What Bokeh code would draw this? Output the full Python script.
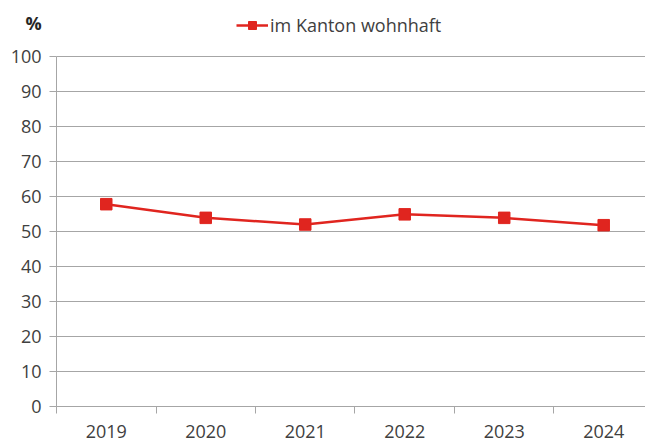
from bokeh.plotting import figure
from bokeh.models import ColumnDataSource, FixedTicker, Range1d, Legend, LegendItem, Label
from bokeh.embed import file_html
from bokeh.resources import INLINE

years = ["2019", "2020", "2021", "2022", "2023", "2024"]
values = [57.8, 53.9, 52.0, 54.9, 53.9, 51.8]
y_ticks = [0, 10, 20, 30, 40, 50, 60, 70, 80, 90, 100]
series_name = "im Kanton wohnhaft"
unit_label = "%"

RED = "#e0251f"
GRID = "#a6a6a6"
TXT = "#404040"
FONT = "Open Sans"

n = len(years)
xpos = [i + 0.5 for i in range(n)]
src = ColumnDataSource(dict(x=xpos, y=values, year=years))
X0, X1 = -0.563, 5.92
Y0, Y1 = -10, 116
grid_src = ColumnDataSource(dict(x0=[0] * len(y_ticks), x1=[X1] * len(y_ticks), y=y_ticks))

p = figure(width=645, height=441, output_backend="svg", toolbar_location=None,
           x_range=Range1d(X0, X1), y_range=Range1d(Y0, Y1),
           min_border_left=0, min_border_top=0, min_border_bottom=0, min_border_right=0)
p.outline_line_color = None
p.background_fill_color = "white"
p.xgrid.grid_line_color = None
p.ygrid.grid_line_color = None

p.segment(x0="x0", x1="x1", y0="y", y1="y", source=grid_src, line_color=GRID, line_width=1)

r_line = p.line("x", "y", source=src, line_color=RED, line_width=2.5)
r_pts = p.scatter("x", "y", source=src, marker="square", size=11.5, fill_color=RED, line_color=RED)

p.xaxis.fixed_location = 0
p.xaxis.ticker = FixedTicker(ticks=xpos, minor_ticks=list(range(n + 1)))
p.xaxis.bounds = (0, X1)
p.xaxis.major_label_overrides = {x: y for x, y in zip(xpos, years)}
p.xaxis.major_tick_line_color = None
p.xaxis.major_tick_out = 0
p.xaxis.minor_tick_in = 0
p.xaxis.minor_tick_out = 7
p.xaxis.minor_tick_line_color = GRID
p.xaxis.axis_line_color = GRID
p.xaxis.major_label_standoff = 11

p.yaxis.fixed_location = 0
p.yaxis.bounds = (0, 100)
p.yaxis.ticker = FixedTicker(ticks=y_ticks)
p.yaxis.major_tick_in = 0
p.yaxis.major_tick_out = 7
p.yaxis.major_tick_line_color = GRID
p.yaxis.minor_tick_line_color = None
p.yaxis.axis_line_color = GRID
p.yaxis.major_label_standoff = 8

for ax in (p.xaxis, p.yaxis):
    ax.major_label_text_font = FONT
    ax.major_label_text_font_size = "18px"
    ax.major_label_text_color = TXT

legend = Legend(items=[LegendItem(label=series_name, renderers=[r_line, r_pts])],
                location=(236, 404), orientation="horizontal",
                label_text_font=FONT, label_text_font_size="18px", label_text_color=TXT,
                glyph_width=32, glyph_height=20, label_standoff=2, padding=0, margin=0,
                border_line_color=None, background_fill_alpha=0)
p.add_layout(legend, "center")

pct = Label(x=-0.231, y=109.7, text=unit_label, text_align="center", text_baseline="middle",
            text_font=FONT, text_font_size="18px", text_font_style="bold", text_color="#262626")
p.add_layout(pct)

open("out.html", "w").write(file_html(p, INLINE))
